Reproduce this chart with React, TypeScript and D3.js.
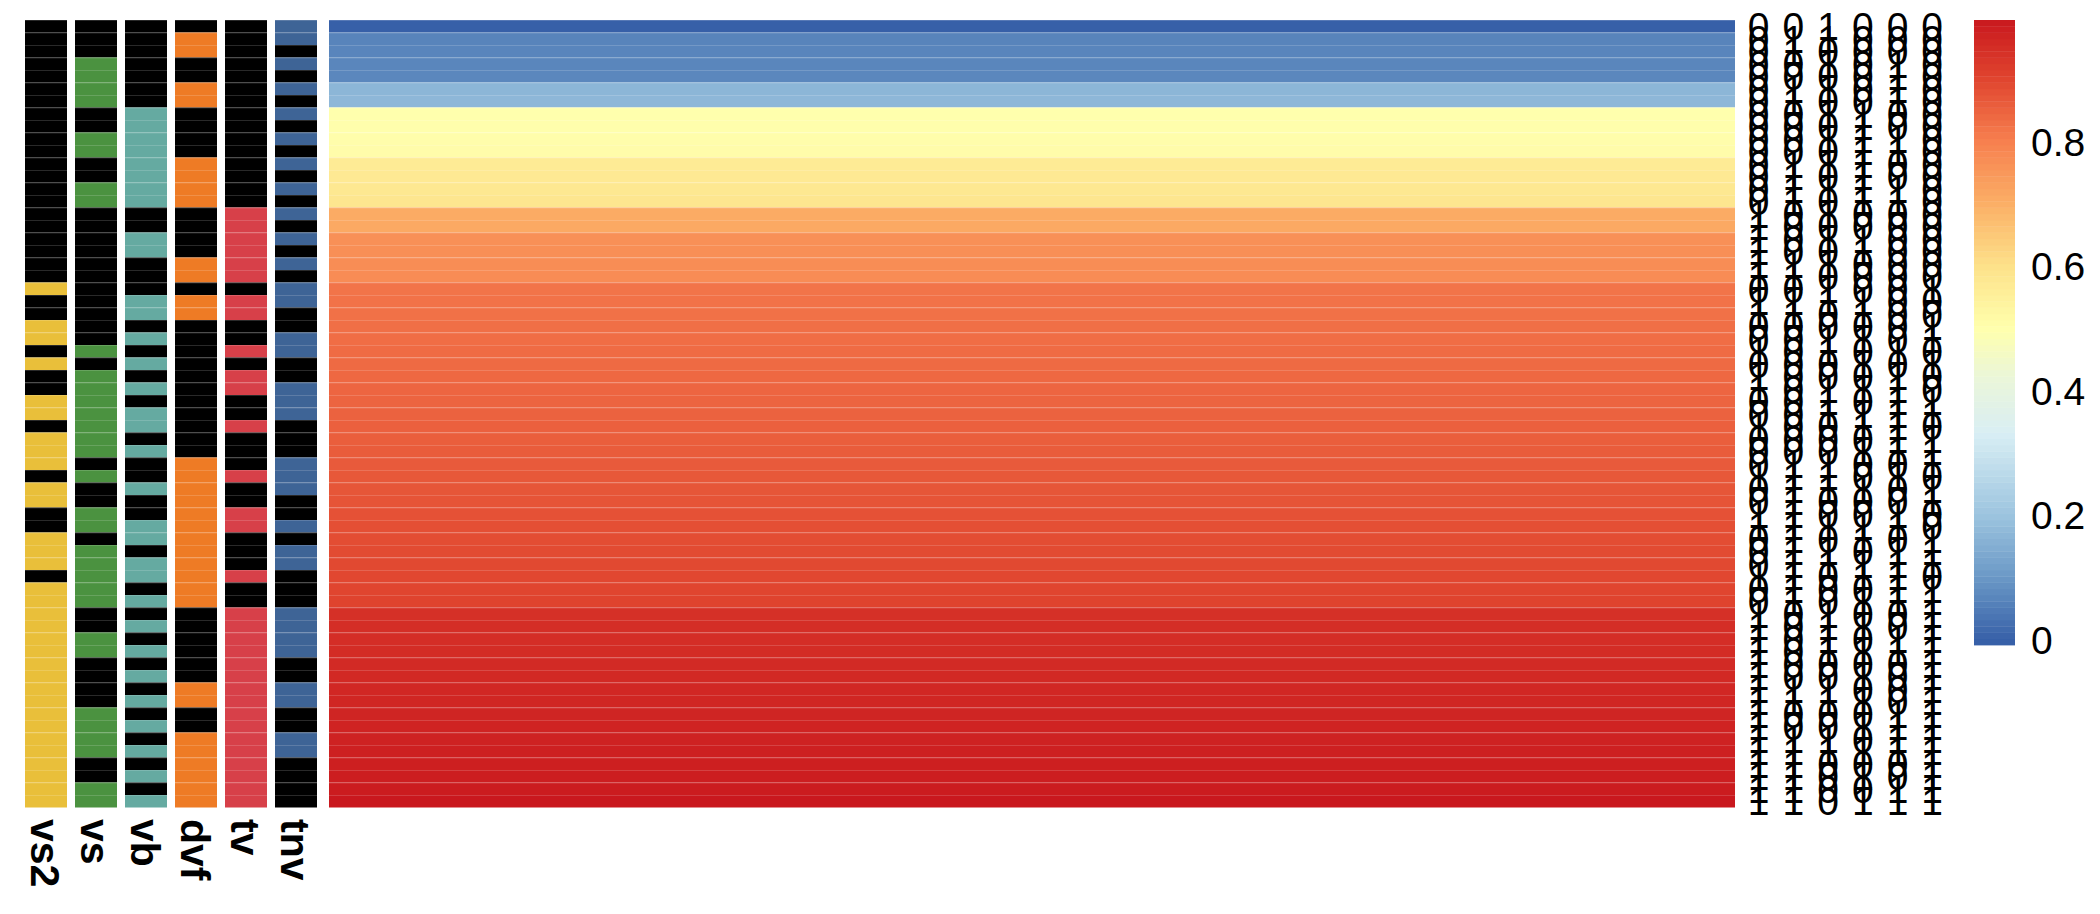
import * as d3 from "d3";

// --- annotation tracks (0 = black, 1 = track colour), top row first ---
const annoNames = ["vs2", "vs", "vb", "dvf", "tv", "tnv"];

const vs2 = [0,0,0,0,0,0,0,0,0,0, 0,0,0,0,0,0,0,0,0,0, 0,1,0,0,1,1,0,1,0,0, 1,1,0,1,1,1,0,1,1,0, 0,1,1,1,0,1,1,1,1,1, 1,1,1,1,1,1,1,1,1,1, 1,1,1];
const vs  = [0,0,0,1,1,1,1,0,0,1, 1,0,0,1,1,0,0,0,0,0, 0,0,0,0,0,0,1,0,1,1, 1,1,1,1,1,0,1,0,0,1, 1,0,1,1,1,1,1,0,0,1, 1,0,0,0,0,1,1,1,1,0, 0,1,1];
const vb  = [0,0,0,0,0,0,0,1,1,1, 1,1,1,1,1,0,0,1,1,0, 0,0,1,1,0,1,0,1,0,1, 0,1,1,0,1,0,0,1,0,0, 1,1,0,1,1,0,1,0,1,0, 1,0,1,0,1,0,1,0,1,0, 1,0,1];
const dvf = [0,1,1,0,0,1,1,0,0,0, 0,1,1,1,1,0,0,0,0,1, 1,0,1,1,0,0,0,0,0,0, 0,0,0,0,0,1,1,1,1,1, 1,1,1,1,1,1,1,0,0,0, 0,0,0,1,1,0,0,1,1,1, 1,1,1];
const tv  = [0,0,0,0,0,0,0,0,0,0, 0,0,0,0,0,1,1,1,1,1, 1,0,1,1,0,0,1,0,1,1, 0,0,1,0,0,0,1,0,0,1, 1,0,0,0,1,0,0,1,1,1, 1,1,1,1,1,1,1,1,1,1, 1,1,1];
const tnv = [1,1,0,1,0,1,0,1,0,1, 0,1,0,1,0,1,0,1,0,1, 0,1,1,0,0,1,1,0,0,1, 1,1,0,0,0,1,1,1,0,0, 1,0,1,1,0,0,0,1,1,1, 1,0,0,1,1,0,0,1,1,0, 0,0,0];

const annoData: Record<string, number[]> = { vs2, vs, vb, dvf, tv, tnv };
const annoColors: Record<string, string> = {
  vs2: "#E9BF3A", vs: "#4B9240", vb: "#65AAA1", dvf: "#EE7B25", tv: "#D74049", tnv: "#3E6496",
};

// --- heatmap values, one per row ---
const heatValues = [
  -0.008,
  0.064, 0.066, 0.068, 0.070,
  0.168, 0.171,
  0.500, 0.502, 0.507, 0.510,
  0.570, 0.575, 0.580, 0.585,
  0.708, 0.712,
  0.765, 0.768, 0.772, 0.775,
  0.820, 0.823, 0.826, 0.829, 0.832, 0.835, 0.838, 0.841, 0.845, 0.848,
  0.851, 0.854, 0.858, 0.861, 0.864, 0.868, 0.872, 0.875, 0.879, 0.883,
  0.887, 0.890, 0.894, 0.897, 0.900, 0.904,
  0.945, 0.948, 0.951, 0.954, 0.957, 0.960, 0.963, 0.966, 0.969, 0.972,
  0.975, 0.978, 0.981, 0.984, 0.988, 0.995,
];

const legendTicks = [0, 0.2, 0.4, 0.6, 0.8];
// order of the 0/1 text columns on the right
const textOrder = ["tv", "dvf", "tnv", "vb", "vs", "vs2"];

// palette stops (reversed RdYlBu look)
const paletteStops = [0, 0.1, 0.2, 0.33, 0.42, 0.5, 0.6, 0.7, 0.8, 0.9, 1];
const paletteColors = ["#3760a8", "#6a98c6", "#9cc4df", "#d8eef4", "#eaf6da", "#ffffad",
  "#fde28a", "#fbaf66", "#f7804f", "#e0452f", "#c8161d"];

const W = 2100;
const H = 914;
const FONT = "'Liberation Sans', Arial, Helvetica, sans-serif";

export default function App() {
  const rows = d3.range(heatValues.length);
  const y = d3.scaleBand<number>().domain(rows).range([20, 807.5]);
  const xAnno = d3.scaleBand<string>().domain(annoNames).range([25, 317]).paddingInner(0.16);
  const heatX0 = 329;
  const heatX1 = 1735;
  const xText = d3.scalePoint<string>().domain(textOrder).range([1758.7, 1932.2]);

  const color = d3.scaleLinear<string>().domain(paletteStops).range(paletteColors)
    .interpolate(d3.interpolateRgb).clamp(true);

  const [vmin, vmax] = d3.extent(heatValues) as [number, number];
  const legendY = d3.scaleLinear().domain([vmin, vmax]).range([645, 20]);
  const legendSteps = d3.range(100).map(i => vmin + (i / 100) * (vmax - vmin));
  const stepH = (645 - 20) / 100;

  const rh = y.bandwidth();
  const sepColor = "#ffffff";
  const sepOpacity = 0.16;

  return (
    <div style={{ position: "absolute", left: 0, top: 0 }}>
      <svg width={W} height={H} viewBox={`0 0 ${W} ${H}`} style={{ display: "block", background: "#fff" }}>
        {/* annotation tracks */}
        {annoNames.map(name => (
          <g key={name}>
            {rows.map(i => (
              <rect key={i} x={xAnno(name)} y={y(i)} width={xAnno.bandwidth()} height={rh}
                fill={annoData[name][i] ? annoColors[name] : "#000000"} />
            ))}
            {rows.map(i => (
              <line key={"s" + i} x1={xAnno(name)} x2={(xAnno(name) as number) + xAnno.bandwidth()}
                y1={(y(i) as number) + 0.5} y2={(y(i) as number) + 0.5}
                stroke={sepColor} strokeOpacity={sepOpacity} />
            ))}
            <text transform={`translate(${(xAnno(name) as number) + xAnno.bandwidth() / 2},819) rotate(90)`}
              dy="0.36em" fontFamily={FONT} fontWeight="bold" fontSize={41} fill="#000">
              {name}
            </text>
          </g>
        ))}

        {/* heatmap */}
        <g>
          {rows.map(i => (
            <rect key={i} x={heatX0} y={y(i)} width={heatX1 - heatX0} height={rh}
              fill={color(heatValues[i])} />
          ))}
          {rows.map(i => (
            <line key={"s" + i} x1={heatX0} x2={heatX1}
              y1={(y(i) as number) + 0.5} y2={(y(i) as number) + 0.5}
              stroke={sepColor} strokeOpacity={sepOpacity} />
          ))}
        </g>

        {/* 0/1 text columns */}
        <g fontFamily={FONT} fontSize={39} textAnchor="middle" fill="#000">
          {textOrder.map(name => (
            <g key={name}>
              {rows.map(i => (
                <text key={i} x={xText(name)} y={(y(i) as number) + rh / 2} dy="0.36em">
                  {String(annoData[name][i])}
                </text>
              ))}
            </g>
          ))}
        </g>

        {/* colour legend */}
        <g>
          {legendSteps.map((v, i) => (
            <rect key={i} x={1974} y={645 - (i + 1) * stepH} width={41} height={stepH + 0.4}
              fill={color(v + (vmax - vmin) / 200)} />
          ))}
          {legendTicks.map(t => (
            <text key={t} x={2031} y={legendY(t)} dy="0.36em" fontFamily={FONT} fontSize={39} fill="#000">
              {String(t)}
            </text>
          ))}
        </g>
      </svg>
    </div>
  );
}
